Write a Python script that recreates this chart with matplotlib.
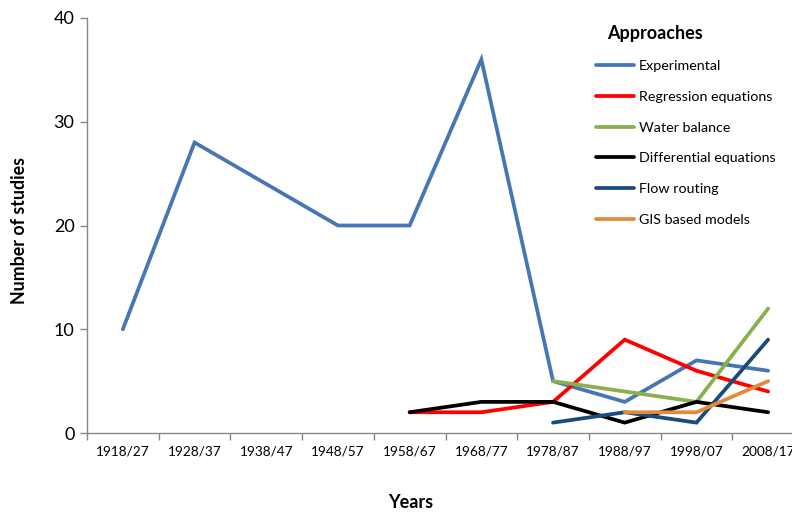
import matplotlib
matplotlib.use("Agg")
import matplotlib.pyplot as plt
import numpy as np

periods = ["1918/27", "1928/37", "1938/47", "1948/57", "1958/67",
           "1968/77", "1978/87", "1988/97", "1998/07", "2008/17"]

experimental = [10, 28, 24, 20, 20, 36, 5, 3, 7, 6]
regression = [None, None, None, None, 2, 2, 3, 9, 6, 4]
water_balance = [None, None, None, None, None, None, 5, 4, 3, 12]
differential = [None, None, None, None, 2, 3, 3, 1, 3, 2]
flow_routing = [None, None, None, None, None, None, 1, 2, 1, 9]
gis_models = [None, None, None, None, None, None, None, 2, 2, 5]

series = [
    ("Experimental", experimental, "#4676B4"),
    ("Regression equations", regression, "#FF0000"),
    ("Water balance", water_balance, "#8BAF4C"),
    ("Differential equations", differential, "#000000"),
    ("Flow routing", flow_routing, "#1B4A7C"),
    ("GIS based models", gis_models, "#E08A3C"),
]

plt.rcParams["font.family"] = ["Lato", "DejaVu Sans"]

fig = plt.figure(figsize=(7.92, 5.13), dpi=100)
ax = fig.add_axes([87 / 792, 1 - 433 / 513, 717 / 792, 415 / 513])

x = np.arange(len(periods))
for name, vals, color in series:
    y = np.array([np.nan if v is None else v for v in vals], dtype=float)
    ax.plot(x, y, color=color, lw=2.7, label=name, solid_capstyle="round",
            solid_joinstyle="miter", clip_on=False)

ax.set_xlim(-0.5, len(periods) - 0.5)
ax.set_ylim(0, 40)
ax.set_yticks([0, 10, 20, 30, 40])
ax.set_xticks(x)
ax.set_xticklabels(periods, fontsize=9.8)
ax.set_xticks(np.arange(-0.5, len(periods), 1.0), minor=True)
ax.tick_params(axis="x", which="major", length=0, pad=9)
ax.tick_params(axis="x", which="minor", length=5, color="#868686", width=1)
ax.tick_params(axis="y", length=5, color="#868686", width=1, labelsize=13, pad=4)

for s in ("top", "right"):
    ax.spines[s].set_visible(False)
for s in ("left", "bottom"):
    ax.spines[s].set_color("#868686")
    ax.spines[s].set_linewidth(1)

fig.text(20 / 792, 1 - 231 / 513, "Number of studies", rotation=90,
         ha="center", va="center", fontsize=12.8, fontweight="bold")
fig.text(411 / 792, 1 - 502 / 513, "Years", ha="center", va="center",
         fontsize=13, fontweight="bold")

fig.text(607 / 792, 1 - 33 / 513, "Approaches", ha="left", va="center",
         fontsize=13, fontweight="bold")
leg = ax.legend(loc="upper left", bbox_to_anchor=(590 / 792, 1 - 54 / 513),
                bbox_transform=fig.transFigure, frameon=False, fontsize=10.3,
                handlelength=2.7, handletextpad=0.3,
                labelspacing=1.32, borderaxespad=0)

fig.savefig("out.png", dpi=100)
